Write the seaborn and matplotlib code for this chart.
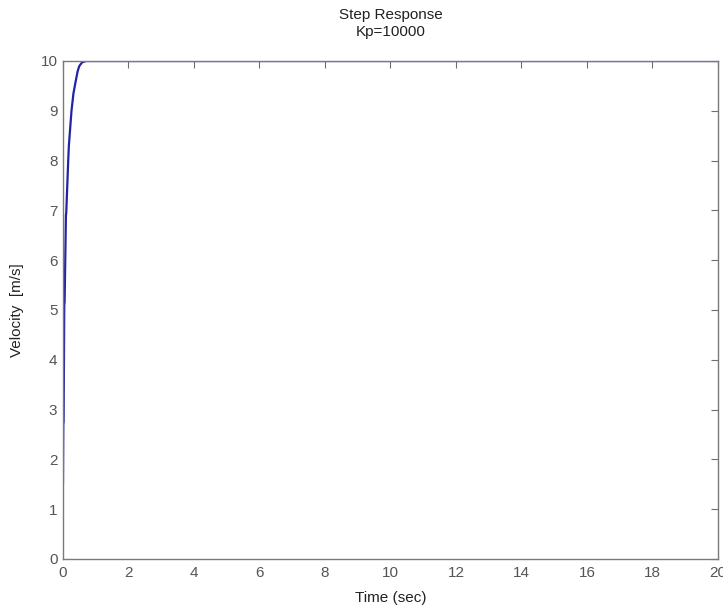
import matplotlib
matplotlib.use("Agg")
import matplotlib.pyplot as plt
import seaborn as sns
import pandas as pd

time_s = [0.0, 0.01, 0.02, 0.04, 0.05, 0.09, 0.10, 0.16, 0.18, 0.26, 0.32, 0.39, 0.45, 0.50, 0.58, 0.70, 1.0, 20.0]
velocity = [1.5, 2.7, 2.75, 5.1, 5.15, 6.9, 6.95, 8.0, 8.3, 9.0, 9.35, 9.6, 9.8, 9.9, 9.97, 10.0, 10.0, 10.0]
x_ticks = [0, 2, 4, 6, 8, 10, 12, 14, 16, 18, 20]
y_ticks = [0, 1, 2, 3, 4, 5, 6, 7, 8, 9, 10]

sns.set_style("white")
plt.rcParams['font.family'] = ['Liberation Sans', 'DejaVu Sans']

df = pd.DataFrame({"Time": time_s, "Velocity": velocity})

fig = plt.figure(figsize=(7.23, 6.13), dpi=100)
ax = fig.add_axes([0.0871, 0.0881, 0.9059, 0.8124])
sns.lineplot(data=df, x="Time", y="Velocity", ax=ax, color="#2323a6", linewidth=1.6, estimator=None, sort=False)

ax.set_xlim(0, 20)
ax.set_ylim(0, 10)
ax.set_xticks(x_ticks)
ax.set_yticks(y_ticks)
ax.tick_params(direction="in", length=5, width=0.8, color="#6e6e6e", labelcolor="#555555",
               labelsize=11, top=True, right=True)
ax.tick_params(axis="x", pad=5)
ax.tick_params(axis="y", pad=4)
for s in ax.spines.values():
    s.set_color("#7a7a7a")
    s.set_linewidth(1.0)
ax.set_xlabel("Time (sec)", fontsize=11, color="#222222", labelpad=8)
ax.set_ylabel("Velocity  [m/s]", fontsize=11, color="#222222", labelpad=12)
ax.set_title("Step Response\nKp=10000", fontsize=11, color="#222222", pad=18, linespacing=1.3)

fig.savefig("out.png", dpi=100)
